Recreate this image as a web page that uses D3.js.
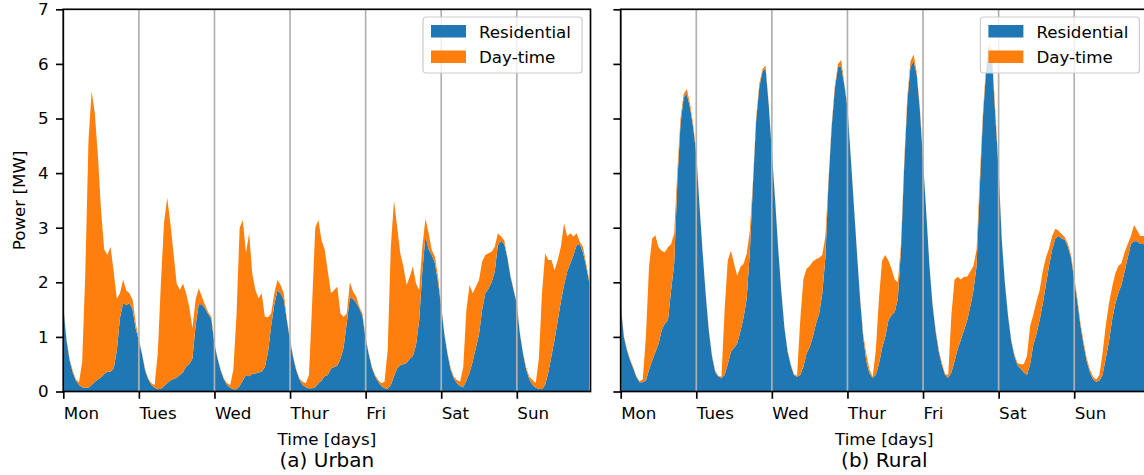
<!DOCTYPE html>
<html>
<head>
<meta charset="utf-8">
<script src="https://cdn.jsdelivr.net/npm/d3@7"></script>
<style>
  body { margin: 0; background: #fff; }
  text { font-family: "DejaVu Sans", sans-serif; fill: #000; }
</style>
</head>
<body>
<div id="wrapper"></div>
<script>
// day names used as x tick labels (one tick every 24 h)
const dayLabels = ["Mon", "Tues", "Wed", "Thur", "Fri", "Sat", "Sun"]
const seriesNames = ["Residential", "Day-time"]
const yTicks = [0, 1, 2, 3, 4, 5, 6, 7]

// hourly power [MW], Mon 00:00 .. Sun 23:00
const urbanResidential = [
  1.55, 0.95, 0.57, 0.35, 0.2, 0.12, 0.08, 0.07, 0.07, 0.12, 0.18, 0.22, 0.26, 0.32, 0.36, 0.36, 0.42, 0.75, 1.35, 1.62, 1.58, 1.62, 1.5, 1.15,
  0.93, 0.68, 0.38, 0.22, 0.12, 0.07, 0.04, 0.05, 0.1, 0.15, 0.2, 0.23, 0.25, 0.3, 0.35, 0.46, 0.5, 0.6, 1.2, 1.6, 1.6, 1.52, 1.42, 1.33,
  0.86, 0.6, 0.38, 0.22, 0.12, 0.07, 0.04, 0.04, 0.1, 0.2, 0.3, 0.28, 0.32, 0.33, 0.35, 0.36, 0.45, 0.72, 1.2, 1.6, 1.85, 1.8, 1.68, 1.3,
  0.93, 0.62, 0.38, 0.22, 0.12, 0.08, 0.06, 0.06, 0.08, 0.15, 0.2, 0.28, 0.3, 0.42, 0.45, 0.47, 0.6, 0.8, 1.25, 1.72, 1.7, 1.62, 1.52, 1.38,
  0.96, 0.68, 0.43, 0.28, 0.18, 0.1, 0.06, 0.05, 0.12, 0.28, 0.42, 0.48, 0.5, 0.52, 0.6, 0.65, 0.85, 1.3, 2.2, 2.85, 2.6, 2.5, 2.35, 2.0,
  1.55, 1.05, 0.68, 0.4, 0.24, 0.15, 0.1, 0.08, 0.2, 0.35, 0.55, 0.8, 1.05, 1.5, 1.8, 1.88, 2.0, 2.2, 2.68, 2.76, 2.7, 2.45, 2.1, 1.85,
  1.6, 1.05, 0.68, 0.4, 0.22, 0.12, 0.07, 0.05, 0.04, 0.12, 0.35, 0.65, 0.95, 1.3, 1.65, 1.95, 2.2, 2.35, 2.5, 2.68, 2.7, 2.55, 2.3, 2.0
]
const urbanDaytime = [
  0.03, 0.02, 0.03, 0.03, 0.02, 0.05, 0.47, 2.13, 4.53, 5.38, 4.92, 4.08, 3.04, 2.28, 2.14, 2.29, 1.78, 0.95, 0.45, 0.43, 0.27, 0.18, 0.18, 0.1,
  0.02, 0.02, 0.02, 0.02, 0.03, 0.05, 0.66, 1.95, 3.0, 3.4, 2.88, 2.3, 1.73, 1.56, 1.63, 1.34, 1.05, 0.56, 0.48, 0.29, 0.14, 0.07, 0.03, 0.04,
  0.02, 0.01, 0.02, 0.02, 0.03, 0.05, 0.36, 1.36, 2.9, 2.94, 2.23, 2.62, 1.84, 1.53, 1.36, 1.44, 0.92, 0.64, 0.23, 0.2, 0.19, 0.15, 0.12, 0.03,
  0.02, 0.02, 0.02, 0.02, 0.06, 0.07, 0.24, 1.54, 2.92, 2.99, 2.57, 2.32, 1.9, 1.38, 1.41, 1.45, 0.83, 0.57, 0.18, 0.28, 0.13, 0.12, 0.03, 0.05,
  0.02, 0.02, 0.02, 0.02, 0.03, 0.05, 0.12, 0.71, 2.53, 3.22, 2.6, 2.05, 1.79, 1.43, 1.5, 1.64, 1.13, 0.56, 0.45, 0.32, 0.3, 0.09, 0.12, 0.1,
  0.02, 0.02, 0.02, 0.03, 0.03, 0.06, 0.08, 0.37, 1.3, 1.6, 1.25, 1.12, 0.99, 0.88, 0.7, 0.65, 0.56, 0.45, 0.22, 0.08, 0.07, 0.02, 0.02, 0.02,
  0.02, 0.02, 0.02, 0.03, 0.05, 0.09, 0.08, 0.55, 1.76, 2.41, 2.06, 1.76, 1.27, 1.11, 1.0, 1.13, 0.64, 0.55, 0.34, 0.22, 0.04, 0.1, 0.05, 0.04
]
const ruralResidential = [
  1.6, 1.0, 0.75, 0.57, 0.42, 0.26, 0.17, 0.17, 0.2, 0.4, 0.57, 0.72, 0.87, 1.12, 1.24, 1.3, 1.85, 2.35, 3.86, 4.9, 5.39, 5.45, 5.2, 4.84,
  4.35, 3.42, 2.56, 1.77, 1.1, 0.64, 0.36, 0.27, 0.25, 0.3, 0.5, 0.73, 0.8, 0.88, 1.1, 1.35, 1.7, 2.55, 3.8, 4.95, 5.57, 5.85, 5.92, 5.25,
  4.38, 3.54, 2.62, 1.83, 1.16, 0.73, 0.48, 0.3, 0.27, 0.3, 0.45, 0.69, 0.81, 1.0, 1.24, 1.42, 1.79, 2.46, 3.85, 4.85, 5.55, 5.95, 5.95, 5.62,
  5.2, 4.33, 3.45, 2.56, 1.7, 1.0, 0.55, 0.33, 0.25, 0.3, 0.5, 0.8, 1.0, 1.3, 1.4, 1.45, 1.7, 2.6, 4.1, 5.3, 5.95, 6.05, 5.8, 5.15,
  4.22, 3.3, 2.33, 1.6, 1.1, 0.73, 0.48, 0.3, 0.25, 0.35, 0.55, 0.78, 0.95, 1.12, 1.3, 1.55, 1.85, 2.3, 3.7, 5.0, 5.85, 6.28, 6.0, 5.0,
  4.05, 2.78, 1.98, 1.38, 0.93, 0.65, 0.48, 0.42, 0.35, 0.3, 0.5, 0.85, 1.05, 1.3, 1.6, 1.95, 2.3, 2.6, 2.8, 2.85, 2.8, 2.78, 2.65, 2.45,
  2.05, 1.65, 1.2, 0.85, 0.55, 0.35, 0.22, 0.18, 0.2, 0.3, 0.6, 0.9, 1.3, 1.6, 1.8, 1.95, 2.2, 2.45, 2.7, 2.75, 2.75, 2.7, 2.7, 2.65
]
const ruralDaytime = [
  0.02, 0.02, 0.02, 0.02, 0.02, 0.02, 0.02, 0.05, 0.8, 1.9, 2.23, 2.14, 1.77, 1.46, 1.31, 1.34, 0.85, 0.55, 0.19, 0.12, 0.06, 0.09, 0.07, 0.06,
  0.05, 0.02, 0.02, 0.02, 0.02, 0.02, 0.02, 0.02, 0.02, 1.2, 1.9, 1.85, 1.54, 1.24, 1.18, 0.99, 0.82, 0.4, 0.06, 0.07, 0.06, 0.05, 0.05, 0.02,
  0.03, 0.02, 0.02, 0.02, 0.02, 0.02, 0.02, 0.02, 0.02, 1.0, 1.6, 1.56, 1.49, 1.38, 1.18, 1.03, 0.71, 0.39, 0.05, 0.05, 0.05, 0.05, 0.12, 0.03,
  0.03, 0.02, 0.02, 0.02, 0.03, 0.05, 0.13, 0.07, 0.02, 0.45, 1.2, 1.6, 1.5, 1.1, 0.85, 0.6, 0.3, 0.1, 0.1, 0.1, 0.1, 0.12, 0.05, 0.05,
  0.03, 0.02, 0.02, 0.02, 0.03, 0.03, 0.04, 0.02, 0.05, 1.05, 1.5, 1.32, 1.1, 0.98, 0.8, 0.65, 0.45, 0.3, 0.2, 0.1, 0.1, 0.1, 0.1, 0.1,
  0.05, 0.02, 0.02, 0.02, 0.02, 0.03, 0.04, 0.08, 0.15, 0.35, 0.7, 0.55, 0.6, 0.55, 0.6, 0.5, 0.32, 0.25, 0.18, 0.1, 0.08, 0.05, 0.05, 0.05,
  0.05, 0.05, 0.05, 0.05, 0.05, 0.05, 0.05, 0.04, 0.1, 0.4, 0.6, 0.7, 0.6, 0.55, 0.5, 0.4, 0.35, 0.25, 0.15, 0.3, 0.2, 0.15, 0.15, 0.15
]

const colors = ["#1f77b4", "#ff7f0e"]

const dimensions = {
  width: 1144,
  height: 475,
  plotWidth: 527.2,
  top: 9.3,
  bottom: 391.5,
}
const fontSize = 16.7

const svg = d3.select("#wrapper")
  .append("svg")
  .attr("width", dimensions.width)
  .attr("height", dimensions.height)

function drawPanel(left, residential, daytime, showYLabels, subtitle) {
  const rows = residential.map((r, i) => ({ hour: i, "Residential": r, "Day-time": daytime[i] }))

  const xScaler = d3.scaleLinear()
    .domain([0, 167.4])
    .range([left, left + dimensions.plotWidth])
  const yScaler = d3.scaleLinear()
    .domain([0, 7])
    .range([dimensions.bottom, dimensions.top])

  const stacked = d3.stack().keys(seriesNames)(rows)

  const clipId = "clip" + Math.round(left)
  svg.append("clipPath").attr("id", clipId)
    .append("rect")
    .attr("x", left).attr("y", dimensions.top)
    .attr("width", dimensions.plotWidth)
    .attr("height", dimensions.bottom - dimensions.top)

  const area = d3.area()
    .x(d => xScaler(d.data.hour))
    .y0(d => yScaler(d[0]))
    .y1(d => yScaler(d[1]))

  svg.append("g")
    .attr("clip-path", `url(#${clipId})`)
    .selectAll("path")
    .data(stacked)
    .enter()
    .append("path")
    .attr("d", area)
    .attr("fill", (d, i) => colors[i])

  // vertical grid at day boundaries, drawn over the fills like matplotlib
  const dayTicks = dayLabels.map((d, i) => i * 24)
  svg.append("g")
    .selectAll("line")
    .data(dayTicks)
    .enter()
    .append("line")
    .attr("x1", d => xScaler(d)).attr("x2", d => xScaler(d))
    .attr("y1", dimensions.top).attr("y2", dimensions.bottom)
    .attr("stroke", "#b0b0b0")
    .attr("stroke-width", 1.67)

  // y axis
  const yAxis = d3.axisLeft(yScaler)
    .tickValues(yTicks)
    .tickSize(7.3)
    .tickPadding(7.3)
    .tickFormat(d => showYLabels ? d : "")
  const yG = svg.append("g")
    .attr("transform", `translate(${left},0)`)
    .call(yAxis)
  yG.select(".domain").remove()
  yG.selectAll(".tick line").attr("stroke", "#000").attr("stroke-width", 1.67)
  yG.selectAll("text").style("font-size", fontSize + "px").attr("font-family", null)

  // x axis
  const xAxis = d3.axisBottom(xScaler)
    .tickValues(dayTicks)
    .tickSize(7.3)
    .tickPadding(8.8)
    .tickFormat((d, i) => dayLabels[i])
  const xG = svg.append("g")
    .attr("transform", `translate(0,${dimensions.bottom})`)
    .call(xAxis)
  xG.select(".domain").remove()
  xG.selectAll(".tick line").attr("stroke", "#000").attr("stroke-width", 1.67)
  xG.selectAll("text")
    .style("font-size", fontSize + "px")
    .attr("font-family", null)
    .attr("text-anchor", "start")

  // spines
  svg.append("rect")
    .attr("x", left).attr("y", dimensions.top)
    .attr("width", dimensions.plotWidth)
    .attr("height", dimensions.bottom - dimensions.top)
    .attr("fill", "none")
    .attr("stroke", "#000")
    .attr("stroke-width", 1.67)

  const centerX = left + dimensions.plotWidth / 2
  svg.append("text")
    .attr("x", centerX).attr("y", 445)
    .attr("text-anchor", "middle")
    .style("font-size", fontSize + "px")
    .text("Time [days]")
  svg.append("text")
    .attr("x", centerX).attr("y", 467)
    .attr("text-anchor", "middle")
    .style("font-size", "20px")
    .text(subtitle)

  if (showYLabels) {
    svg.append("text")
      .attr("transform", `translate(25,${(dimensions.top + dimensions.bottom) / 2}) rotate(-90)`)
      .attr("text-anchor", "middle")
      .style("font-size", fontSize + "px")
      .text("Power [MW]")
  }

  // legend
  const legendRight = left + dimensions.plotWidth - 8.5
  const legend = svg.append("g")
    .attr("transform", `translate(${legendRight - 159},17)`)
  legend.append("rect")
    .attr("width", 159).attr("height", 56)
    .attr("rx", 3)
    .attr("fill", "#fff")
    .attr("fill-opacity", 0.8)
    .attr("stroke", "#cccccc")
    .attr("stroke-width", 1.2)
  const items = legend.selectAll(".item")
    .data(seriesNames)
    .enter()
    .append("g")
    .attr("transform", (d, i) => `translate(8,${8 + i * 25.5})`)
  items.append("rect")
    .attr("width", 35).attr("height", 12.5)
    .attr("fill", (d, i) => colors[i])
  items.append("text")
    .attr("x", 48).attr("y", 12.5)
    .style("font-size", fontSize + "px")
    .text(d => d)
}

drawPanel(63.3, urbanResidential, urbanDaytime, true, "(a) Urban")
drawPanel(620.7, ruralResidential, ruralDaytime, false, "(b) Rural")
</script>
</body>
</html>
